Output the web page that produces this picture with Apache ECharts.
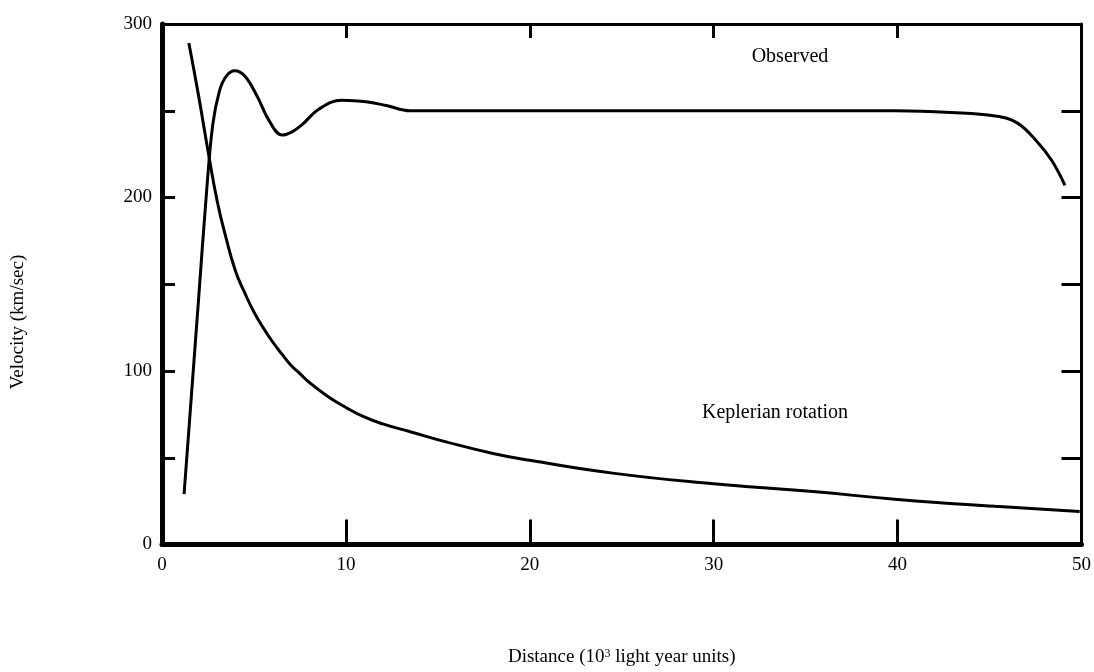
<!DOCTYPE html>
<html>
<head>
<meta charset="utf-8">
<script src="https://cdn.jsdelivr.net/npm/echarts@6/dist/echarts.min.js"></script>
<style>html,body{margin:0;padding:0;background:#fff;}#c{width:1094px;height:672px;}</style>
</head>
<body>
<div id="c"></div>
<script>
// Observed rotation curve
const obsX = [1.2, 1.6, 2.0, 2.4, 2.76, 3.14, 3.5, 3.95, 4.5, 5.19, 5.84, 6.54, 7.1, 7.62, 8.54, 9.78, 11.2, 12.2, 13.5, 20, 30, 39.9, 42.9, 45.3, 46.5, 47.6, 48.4, 49.1];
const obsY = [29, 86, 143, 200, 242, 262, 270, 273, 270, 258, 244, 236, 238, 242, 251, 256, 255, 253, 250, 250, 250, 250, 249, 247, 243, 232, 221, 207];
// Keplerian rotation curve
const kepX = [1.46, 2.0, 2.5, 3.0, 3.5, 4.0, 4.5, 5.0, 5.5, 6.0, 6.5, 7.0, 7.5, 8.0, 9.0, 10.0, 11.0, 12.0, 13.5, 15.5, 18.0, 20.0, 24.6, 30, 35.4, 40, 45.3, 49.9];
const kepY = [289, 258, 227, 198, 176, 157.5, 145, 134, 125, 117, 110, 103.5, 98.5, 93.5, 85.5, 79, 73.5, 69.5, 65, 59, 52.5, 48.5, 41, 35, 30.5, 26, 22, 19];
// Axis tick labels
const yLabels = [0, 100, 200, 300];
const xTitle = 'Distance (10{sup|3} light year units)';
const yTitle = 'Velocity (km/sec)';

const font = 'Liberation Serif, Times New Roman, serif';
const chart = echarts.init(document.getElementById('c'), null, {renderer: 'canvas'});
const pairs = (xs, ys) => xs.map((x, i) => [x, ys[i]]);
const lineStyle = {color: '#000', width: 3};

chart.setOption({
  animation: false,
  backgroundColor: '#fff',
  grid: {left: 162, right: 7, top: 24, bottom: 120, containLabel: false},
  xAxis: [
    {
      type: 'value', position: 'bottom', min: 0, max: 50, interval: 10,
      axisLine: {onZero: false, lineStyle: {color: '#000', width: 5}},
      axisTick: {inside: true, length: 25, lineStyle: {color: '#000', width: 3}},
      axisLabel: {color: '#000', fontFamily: font, fontSize: 19, margin: 11},
      splitLine: {show: false},
      name: xTitle, nameLocation: 'middle', nameGap: 103,
      nameTextStyle: {
        color: '#000', fontFamily: font, fontSize: 19,
        rich: {sup: {fontFamily: font, fontSize: 12, verticalAlign: 'top', padding: [0, 0, 8, 0], color: '#000'}}
      }
    },
    {
      type: 'value', position: 'top', min: 0, max: 50, interval: 10,
      axisLine: {onZero: false, lineStyle: {color: '#000', width: 3}},
      axisTick: {inside: true, length: 14, lineStyle: {color: '#000', width: 3}},
      axisLabel: {show: false},
      splitLine: {show: false}
    }
  ],
  yAxis: [
    {
      type: 'value', position: 'left', min: 0, max: 300, interval: 50,
      axisLine: {show: true, onZero: false, lineStyle: {color: '#000', width: 5}},
      axisTick: {show: true, inside: true, length: 13, lineStyle: {color: '#000', width: 3}},
      axisLabel: {
        color: '#000', fontFamily: font, fontSize: 19, margin: 10,
        formatter: v => yLabels.includes(v) ? String(v) : ''
      },
      splitLine: {show: false}
    },
    {
      type: 'value', position: 'right', min: 0, max: 300, interval: 50,
      axisLine: {show: true, onZero: false, lineStyle: {color: '#000', width: 3}},
      axisTick: {show: true, inside: true, length: 20, lineStyle: {color: '#000', width: 3}},
      axisLabel: {show: false},
      splitLine: {show: false}
    }
  ],
  graphic: [
    {type: 'text', x: 18, y: 322, rotation: Math.PI / 2,
     style: {text: yTitle, fill: '#000', font: '19px ' + font, textAlign: 'center', textVerticalAlign: 'middle'}},
    {type: 'text', x: 790, y: 57,
     style: {text: 'Observed', fill: '#000', font: '20px ' + font, textAlign: 'center', textVerticalAlign: 'middle'}},
    {type: 'text', x: 775, y: 413,
     style: {text: 'Keplerian rotation', fill: '#000', font: '20px ' + font, textAlign: 'center', textVerticalAlign: 'middle'}}
  ],
  series: [
    {name: 'Observed', type: 'line', data: pairs(obsX, obsY), smooth: 0.4, showSymbol: false, lineStyle: lineStyle, xAxisIndex: 0, yAxisIndex: 0},
    {name: 'Keplerian rotation', type: 'line', data: pairs(kepX, kepY), smooth: 0.5, showSymbol: false, lineStyle: lineStyle, xAxisIndex: 0, yAxisIndex: 0}
  ]
});
</script>
</body>
</html>
